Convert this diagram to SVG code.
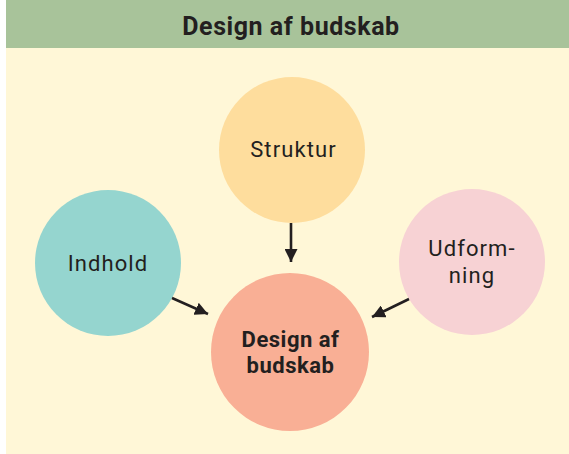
<svg xmlns="http://www.w3.org/2000/svg" width="569" height="454" viewBox="0 0 569 454">
  <style>
    .lbl { font-family: Roboto, "Liberation Sans", sans-serif; font-size: 22px; letter-spacing: 1.1px; fill: #231f20; text-anchor: middle; }
    .bold { font-weight: bold; letter-spacing: 0.5px; }
    .title { font-size: 25px; letter-spacing: 0.55px; }
    .conn { stroke: #231f20; stroke-width: 2.6; fill: none; marker-end: url(#arrow); }
  </style>
  <defs>
    <marker id="arrow" viewBox="0 0 10 10" refX="10" refY="5" markerWidth="5" markerHeight="5" markerUnits="strokeWidth" orient="auto">
      <path d="M0,0 L10,5 L0,10 Z" fill="#231f20"/>
    </marker>
  </defs>
  <rect x="0" y="0" width="569" height="454" fill="#ffffff"/>
  <rect x="6" y="0" width="563" height="454" fill="#fff7d7"/>
  <g id="header">
    <rect x="6" y="0" width="563" height="48" fill="#a8c39a"/>
    <text class="lbl bold title" x="291" y="35">Design af budskab</text>
  </g>
  <g id="struktur">
    <circle cx="292" cy="150" r="73" fill="#fedd9d"/>
    <text class="lbl" x="293.5" y="157">Struktur</text>
  </g>
  <g id="indhold">
    <circle cx="108" cy="263" r="73" fill="#95d5cf"/>
    <text class="lbl" x="108" y="271">Indhold</text>
  </g>
  <g id="udformning">
    <circle cx="472" cy="262" r="73" fill="#f7d2d4"/>
    <text class="lbl" x="472" y="256">Udform-</text>
    <text class="lbl" x="472" y="283">ning</text>
  </g>
  <g id="design">
    <circle cx="290" cy="352" r="79" fill="#f9af95"/>
    <text class="lbl bold" x="290.5" y="347">Design af</text>
    <text class="lbl bold" x="290.5" y="373">budskab</text>
  </g>
  <g id="connectors">
    <line class="conn" x1="291" y1="223" x2="291" y2="262"/>
    <line class="conn" x1="172" y1="298" x2="208" y2="314"/>
    <line class="conn" x1="409" y1="299" x2="372" y2="317"/>
  </g>
</svg>
